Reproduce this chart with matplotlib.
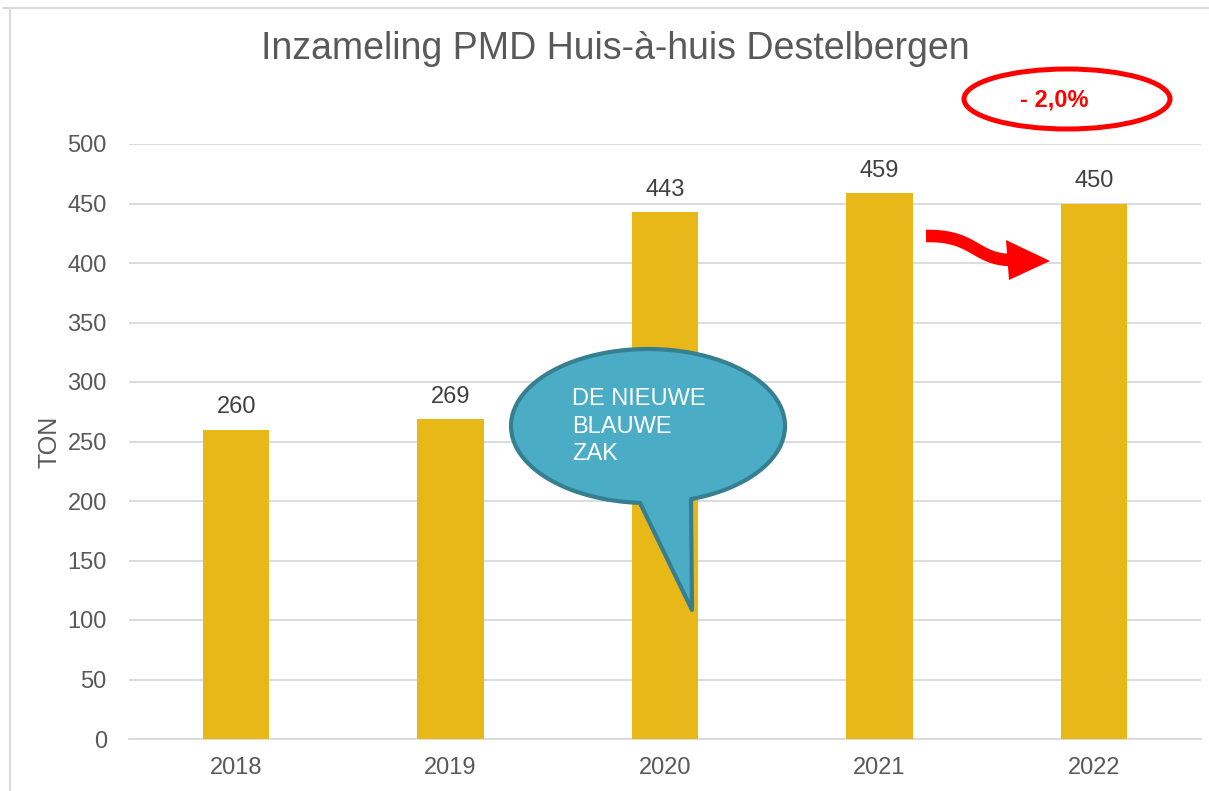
import matplotlib
matplotlib.use("Agg")
import matplotlib.pyplot as plt
import numpy as np
from matplotlib.patches import Ellipse, Polygon

plt.rcParams['font.family'] = ['Liberation Sans', 'DejaVu Sans']

years = ["2018", "2019", "2020", "2021", "2022"]
tons = [260, 269, 443, 459, 450]
yticks = [0, 50, 100, 150, 200, 250, 300, 350, 400, 450, 500]
title = "Inzameling PMD Huis-à-huis Destelbergen"
ylabel = "TON"
change_label = "- 2,0%"
callout_text = "DE NIEUWE\nBLAUWE\nZAK"

W, H = 1209, 791
fig = plt.figure(figsize=(W / 100, H / 100), dpi=100)
fig.patch.set_facecolor("white")

ax = fig.add_axes([129 / W, 1 - 739 / H, (1201 - 129) / W, (739 - 144) / H])
x = np.arange(len(years))
bars = ax.bar(x, tons, width=0.31, color="#E7B817", zorder=3)
ax.set_xlim(-0.5, len(years) - 0.5)
ax.set_ylim(0, 500)
ax.set_yticks(yticks)
ax.set_xticks(x)
ax.set_xticklabels(years)
ax.grid(axis="y", color="#D9D9D9", linewidth=1.3, zorder=0)
for s in ["top", "right", "left"]:
    ax.spines[s].set_visible(False)
ax.spines["bottom"].set_color("#D9D9D9")
ax.spines["bottom"].set_linewidth(1.3)
ax.tick_params(axis="both", length=0, labelsize=17, colors="#595959")
ax.tick_params(axis="y", pad=16)
ax.tick_params(axis="x", pad=13)
ax.set_ylabel(ylabel, fontsize=18, color="#595959", labelpad=4)
for b, v in zip(bars, tons):
    ax.annotate(str(v), (b.get_x() + b.get_width() / 2, v), xytext=(0, 8),
                textcoords="offset points", ha="center", va="bottom",
                fontsize=17, color="#404040")

# overlay in pixel coordinates for decorations
ov = fig.add_axes([0, 0, 1, 1], facecolor="none")
ov.set_xlim(0, W)
ov.set_ylim(H, 0)
ov.axis("off")

# chart border
ov.plot([4, W], [8, 8], color="#D9D9D9", lw=1.5)
ov.plot([10, 10], [8, H], color="#D9D9D9", lw=1.5)

ov.text(615, 49, title, ha="center", va="center", fontsize=27, color="#595959")

# red ellipse with percentage
ov.add_patch(Ellipse((1067, 99), 206, 60, fill=False, edgecolor="#FF0000", lw=3.6))
ov.text(1054, 100, change_label, ha="center", va="center", fontsize=17,
        fontweight="bold", color="#FF0000")

# red S-shaped arrow: cubic bezier tail + triangular head
P = np.array([(926, 236), (975, 235), (975, 260), (1012, 260)])
tt = np.linspace(0, 1, 60)[:, None]
curve = ((1 - tt) ** 3) * P[0] + 3 * ((1 - tt) ** 2) * tt * P[1] \
    + 3 * (1 - tt) * tt ** 2 * P[2] + tt ** 3 * P[3]
ov.plot(curve[:, 0], curve[:, 1], color="#FF0000", lw=9, solid_capstyle="butt")
ov.add_patch(Polygon([(1006, 240), (1050, 261), (1009, 280)], closed=True,
                     facecolor="#FF0000", edgecolor="none"))

# speech bubble callout
cx, cy, a, b = 648, 426, 137, 77
t1 = np.arccos((691 - cx) / a)
t2 = np.arccos((640 - cx) / a)
ts = np.linspace(t2, t1 + 2 * np.pi, 300)
pts = np.column_stack([cx + a * np.cos(ts), cy + b * np.sin(ts)])
pts = np.vstack([pts, [[692, 610]]])
ov.add_patch(Polygon(pts, closed=True, facecolor="#4BACC6", edgecolor="#357F91",
                     lw=3, joinstyle="round"))
ov.text(572, 388, callout_text, ha="left", va="top", fontsize=17, color="white",
        linespacing=1.33)

fig.savefig("out.png", dpi=100)
